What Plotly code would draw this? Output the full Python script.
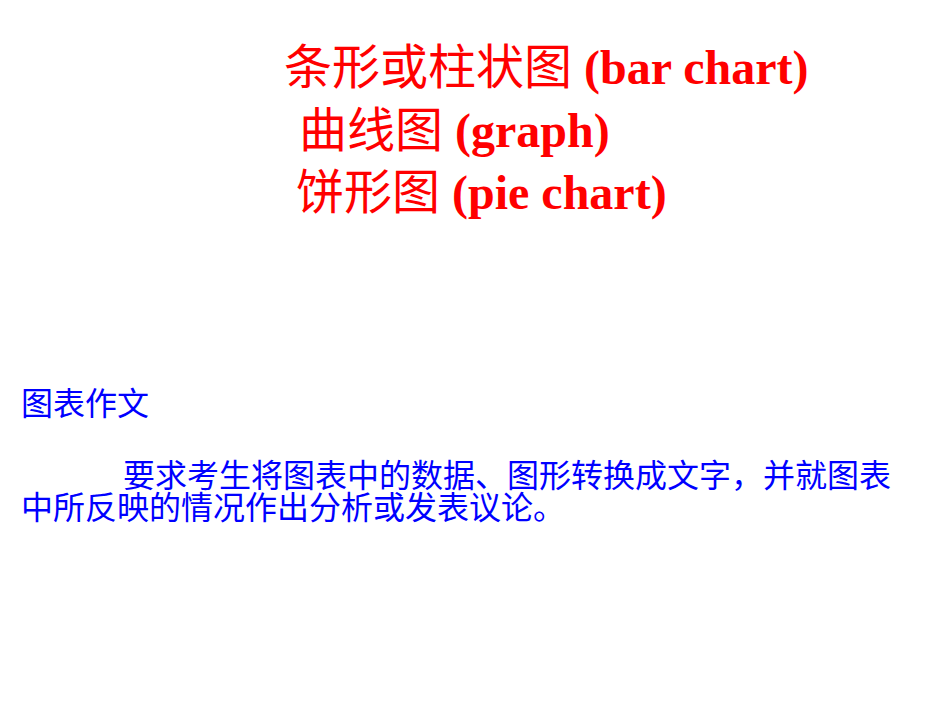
import plotly.graph_objects as go

# slide text
title_cn = ["条形或柱状图", "曲线图", "饼形图"]
title_en = ["(bar chart)", "(graph)", "(pie chart)"]
heading = "图表作文"
body_lines = ["要求考生将图表中的数据、图形转换成文字，并就图表",
              "中所反映的情况作出分析或发表议论。"]

W, H = 950, 722
RED = "#ff0000"
BLUE = "#0000ff"
# serif first keeps the line box short, CJK glyphs fall back to Noto
FONT = "Liberation Serif, Noto Sans CJK SC"

fig = go.Figure()

# title lines (left x, centre y in px)
title_x = [274, 289, 286]
title_y = [60, 123, 185]
for cn, en, x, y in zip(title_cn, title_en, title_x, title_y):
    txt = cn + ' <b>' + en + '</b>'
    fig.add_annotation(x=x / W, y=1 - y / H, xref="paper", yref="paper",
                       text=txt, showarrow=False, xanchor="left", yanchor="middle",
                       font=dict(family=FONT, size=48, color=RED))

fig.add_annotation(x=11 / W, y=1 - 396 / H, xref="paper", yref="paper",
                   text=heading, showarrow=False, xanchor="left", yanchor="middle",
                   font=dict(family=FONT, size=32, color=BLUE))

body_x = [113, 11]
body_y = [468, 500]
for line, x, y in zip(body_lines, body_x, body_y):
    fig.add_annotation(x=x / W, y=1 - y / H, xref="paper", yref="paper",
                       text=line, showarrow=False, xanchor="left", yanchor="middle",
                       font=dict(family=FONT, size=32, color=BLUE))

fig.update_xaxes(visible=False, range=[0, 1])
fig.update_yaxes(visible=False, range=[0, 1])
fig.update_layout(width=W, height=H, margin=dict(l=0, r=0, t=0, b=0),
                  paper_bgcolor="white", plot_bgcolor="white", showlegend=False)

fig.write_html("out.html")
